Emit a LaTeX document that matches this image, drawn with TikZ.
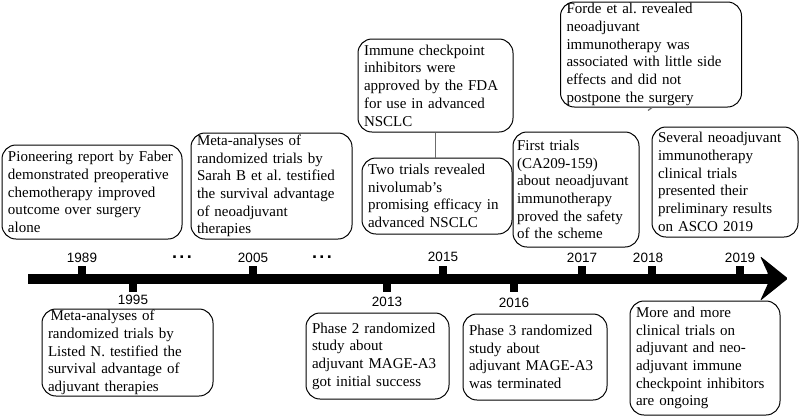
\documentclass[tikz,border=0pt]{standalone}
\usepackage{fontspec}
\setmainfont{Liberation Serif}
\newfontfamily\ticksans{Liberation Sans}
\frenchspacing
\begin{document}
\begin{tikzpicture}[x=1pt,y=-1pt,
  evt/.style={draw=black, line width=1pt, rounded corners=14pt, align=left,
    inner xsep=6pt, inner ysep=0pt, font=\fontsize{15}{17.7}\selectfont\frenchspacing},
  yr/.style={font=\ticksans\fontsize{13.5}{15}\selectfont, inner sep=0pt},
  yrtick/.style={fill=black, minimum width=8pt, minimum height=9pt, inner sep=0pt},
  dots/.style={font=\ticksans\bfseries\fontsize{18}{18}\selectfont, inner sep=0pt},
  link/.style={draw=gray!85!black, line width=1.2pt}]
\useasboundingbox (0,0) rectangle (810,416);

% timeline bar and head
\fill (28,273.5) rectangle (768,283.5);
\fill[rounded corners=1.5pt] (760,256) -- (788,278.5) -- (760,301) -- (768,283.5) -- (768,273.5) -- cycle;

% ticks
\node[yrtick] (t1989) at (82,270) {};
\node[yrtick] (t1995) at (133,287.5) {};
\node[yrtick] (t2005) at (253,270) {};
\node[yrtick] (t2013) at (387,287.5) {};
\node[yrtick] (t2015) at (443,270) {};
\node[yrtick] (t2016) at (514,287.5) {};
\node[yrtick] (t2017) at (582,270) {};
\node[yrtick] (t2018) at (652,270) {};
\node[yrtick] (t2019) at (740,270) {};

% year labels
\node[yr] (y1989) at (82,258) {1989};
\node[yr] (y1995) at (133,300) {1995};
\node[yr] (y2005) at (253,258) {2005};
\node[yr] (y2013) at (387,302) {2013};
\node[yr] (y2015) at (443,257) {2015};
\node[yr] (y2016) at (514,303) {2016};
\node[yr] (y2017) at (582,258) {2017};
\node[yr] (y2018) at (648,258) {2018};
\node[yr] (y2019) at (740,258) {2019};

\node[dots] (d1) at (182,257) {.\hspace{2.5pt}.\hspace{2.5pt}.};
\node[dots] (d2) at (322,257) {.\hspace{2.5pt}.\hspace{2.5pt}.};

% event boxes above
\node[evt, minimum width=180pt, minimum height=94pt, text width=168pt] (faber) at (92,192)
  {Pioneering report by Faber\\demonstrated preoperative\\chemotherapy improved\\outcome over surgery\\alone};
\node[evt, minimum width=161pt, minimum height=106pt, text width=149pt] (sarah) at (271.5,186)
  {Meta-analyses of\\randomized trials by\\Sarah B et al. testified\\the survival advantage\\of neoadjuvant\\therapies};
\node[evt, minimum width=155pt, minimum height=93pt, text width=143pt] (fda) at (435.5,85.5)
  {Immune checkpoint\\inhibitors were\\approved by the FDA\\for use in advanced\\NSCLC};
\node[evt, minimum width=150pt, minimum height=76pt, text width=138pt] (nivo) at (437,196)
  {Two trials revealed\\nivolumab’s\\promising efficacy in\\advanced NSCLC};
\node[evt, minimum width=126pt, minimum height=115pt, text width=118pt, inner xsep=4pt] (first) at (576,189.5)
  {First trials\\(CA209-159)\\about neoadjuvant\\immunotherapy\\proved the safety\\of the scheme};
\node[evt, minimum width=181pt, minimum height=105pt, text width=169pt] (forde) at (651,54.5)
  {Forde et al. revealed\\neoadjuvant\\immunotherapy was\\associated with little side\\effects and did not\\postpone the surgery};
\node[evt, minimum width=146pt, minimum height=110pt, text width=134pt] (asco) at (725,182)
  {Several neoadjuvant\\immunotherapy\\clinical trials\\presented their\\preliminary results\\on ASCO 2019};

% event boxes below
\node[evt, minimum width=171pt, minimum height=87pt, text width=159pt] (listed) at (127.5,352.5)
  {\,Meta-analyses of\\randomized trials by\\Listed N. testified the\\survival advantage of\\adjuvant therapies};
\node[evt, minimum width=143pt, minimum height=86pt, text width=131pt] (phase2) at (377.5,356)
  {Phase 2 randomized\\study about\\adjuvant MAGE-A3\\got initial success};
\node[evt, minimum width=144pt, minimum height=86pt, text width=132pt] (phase3) at (535,357)
  {Phase 3 randomized\\study about\\adjuvant MAGE-A3\\was terminated};
\node[evt, minimum width=150pt, minimum height=114pt, text width=138pt] (more) at (705,358)
  {More and more\\clinical trials on\\adjuvant and neo-\\adjuvant immune\\checkpoint inhibitors\\are ongoing};

% connectors
\draw[link] (fda.south) -- (fda.south |- nivo.north);
\draw[link] (forde.south -| t2018.north) -- ([yshift=-3pt]forde.south -| y2018.north);
\end{tikzpicture}
\end{document}
